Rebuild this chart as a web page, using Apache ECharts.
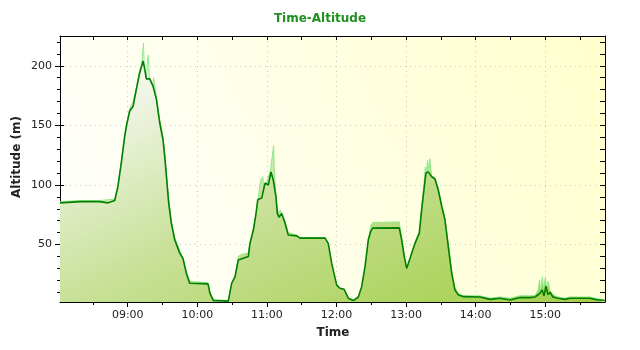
<!DOCTYPE html>
<html><head><meta charset="utf-8">
<script src="https://cdn.jsdelivr.net/npm/echarts@6/dist/echarts.min.js"></script>
<style>html,body{margin:0;padding:0;background:#fff}#c{width:640px;height:350px}</style>
</head><body><div id="c"></div>
<script>
// ---- data ----
const darkTimes = ["8:01:36","8:18:54","8:36:00","8:43:00","8:48:48","8:51:36","8:54:30","8:57:24","8:59:24","9:01:42","9:04:36","9:07:24","9:10:18","9:13:12","9:14:42","9:16:00","9:19:00","9:21:48","9:24:42","9:27:36","9:30:24","9:31:54","9:33:18","9:35:18","9:37:36","9:40:30","9:44:48","9:47:42","9:50:30","9:53:24","10:09:12","10:10:54","10:13:48","10:26:42","10:29:36","10:32:30","10:35:18","10:36:48","10:44:00","10:45:24","10:48:18","10:50:36","10:52:06","10:55:30","10:58:24","11:01:12","11:03:30","11:05:30","11:07:48","11:09:00","11:10:24","11:12:42","11:15:36","11:18:24","11:25:42","11:28:30","11:50:06","11:52:54","11:55:54","12:00:12","12:03:00","12:06:30","12:10:12","12:11:36","12:14:30","12:18:48","12:21:42","12:24:36","12:27:24","12:29:30","12:31:12","12:54:06","12:56:12","12:58:24","13:00:30","13:01:54","13:03:54","13:07:42","13:11:24","13:13:24","13:15:24","13:17:06","13:19:06","13:22:00","13:24:54","13:27:42","13:30:42","13:33:30","13:36:24","13:39:18","13:42:06","13:45:00","13:49:18","14:03:42","14:12:18","14:21:00","14:29:36","14:38:12","14:46:48","14:51:06","14:55:24","14:57:12","14:58:54","15:00:36","15:02:18","15:04:06","15:06:36","15:10:54","15:17:00","15:21:18","15:38:30","15:42:48","15:47:06","15:51:24"];
const darkAlt = [85,86,86,85,87,99,119,141,152,162,166,180,194,204,197,189,189,183,172,152,138,124,108,85,68,54,43,38,26,17.5,17,9,3,2.5,17.5,23,37,38.6,40,51,62,76,87.6,89,101.6,100,111,104,90,76,73,76,68,58,57.3,55.4,55.4,51,34,16,13.3,12.5,5,3.5,3,6,14.7,31.5,54,61,63.8,64,54,40,30,28.7,40,51,59.6,79,96,110,111,107,105,96,82,70.8,48.3,26,12,7.8,6.3,6,4,5,3.5,5.5,5.5,6,9,12,7,15,8,10,6,5,4,5,5,4,3.5,3];

const lightTimes = ["8:01:36","8:18:54","8:36:00","8:48:48","8:51:36","8:54:30","8:57:24","8:59:24","9:01:42","9:04:36","9:07:24","9:10:18","9:12:00","9:13:36","9:14:30","9:15:30","9:17:00","9:17:42","9:19:00","9:21:00","9:22:12","9:24:42","9:27:36","9:30:24","9:31:54","9:33:18","9:35:18","9:37:36","9:40:30","9:44:48","9:47:42","9:50:30","9:53:24","10:09:12","10:10:54","10:13:48","10:26:42","10:29:36","10:32:30","10:35:18","10:37:30","10:44:00","10:45:24","10:48:18","10:50:36","10:52:06","10:54:30","10:56:30","10:57:30","10:59:30","11:01:12","11:03:00","11:05:48","11:06:30","11:07:48","11:09:00","11:10:24","11:11:30","11:15:36","11:18:24","11:25:42","11:28:30","11:50:06","11:52:54","11:55:54","12:00:12","12:03:00","12:06:30","12:10:12","12:11:36","12:14:30","12:18:48","12:21:42","12:24:36","12:27:24","12:29:30","12:31:12","12:54:06","12:56:12","12:58:24","13:00:30","13:01:30","13:02:30","13:03:54","13:07:42","13:11:24","13:13:24","13:15:24","13:16:36","13:17:30","13:18:30","13:19:30","13:20:30","13:21:30","13:22:00","13:24:54","13:27:42","13:30:42","13:33:30","13:36:24","13:39:18","13:42:06","13:45:00","13:49:18","14:03:42","14:12:18","14:21:00","14:29:36","14:38:12","14:46:48","14:51:06","14:54:00","14:55:00","14:56:00","14:57:30","14:58:30","15:00:00","15:01:30","15:02:30","15:04:06","15:06:36","15:10:54","15:17:00","15:21:18","15:38:30","15:42:48","15:47:06","15:51:24"];
const lightAlt = [86,87,87,88,100,120,142,153,164,170,182,196,200,219,190,175,205,209,183,169,190,174,155,140,126,110,88,70,56,45,39,28,19,18,10,4,3,15,22,40,41.5,43,52,63,75,86,104,107,92,101,102,112,133,110,92,80,76,79,70,60,58,56,56,50,32,15,13,13,5,3,2.5,4,12,28,52,66,68.5,69,56,42,22,20,32,40,52,61,81,100,115,110,121,112,122,112,108,106,97,84,72,50,28,14,9,7,7,5,6,5,7,7,7,12,20,10,23,12,22,12,19,11,8,6,5,6,6,5,4,3];

const hourLabels = ["09:00","10:00","11:00","12:00","13:00","14:00","15:00"];
const halfHours = ["8:30","9:00","9:30","10:00","10:30","11:00","11:30","12:00","12:30","13:00","13:30","14:00","14:30","15:00","15:30"];
const yLabelValues = [50,100,150,200];
const yMinorValues = [10,20,30,40,60,70,80,90,110,120,130,140,160,170,180,190,210,220];
const yAllValues = [10,20,30,40,50,60,70,80,90,100,110,120,130,140,150,160,170,180,190,200,210,220];
const timeMin = "8:01:36", timeMax = "15:51:30";
const yMin = 1.8, yMax = 225;

function ts(s){const p=s.split(':').map(Number);return new Date(2020,0,1,p[0],p[1],p[2]||0).getTime();}
const darkData = darkTimes.map((t,i)=>[ts(t),darkAlt[i]]);
const lightData = lightTimes.map((t,i)=>[ts(t),lightAlt[i]]);
const hourTs = hourLabels.map(ts);
const halfTs = halfHours.map(ts);

const FONT = 'DejaVu Sans';
const G = echarts.graphic;
const areaGrad = () => new G.LinearGradient(60,36,267,464,[
  {offset:0,color:'#ffffff'},{offset:0.2,color:'#eef4e2'},{offset:0.5,color:'#c9e19a'},
  {offset:0.8,color:'#b0d564'},{offset:1,color:'#a4cf4c'}],true);
const bgGrad = new G.LinearGradient(60,302,605,36,[
  {offset:0,color:'#ffffff'},{offset:1,color:'#ffffcc'}],true);

const xBase = {type:'time',min:ts(timeMin),max:ts(timeMax),gridIndex:0};
const yBase = {type:'value',min:yMin,max:yMax,gridIndex:0};
const off = {show:false};

const chart = echarts.init(document.getElementById('c'),null,{renderer:'canvas'});
chart.setOption({
  animation:false,
  backgroundColor:'#ffffff',
  title:{text:'Time-Altitude',left:'center',top:8,
    textStyle:{fontFamily:FONT,fontWeight:'bold',fontSize:12,color:'#1f8f1f'}},
  grid:{left:60,right:35,top:36,bottom:48,show:true,backgroundColor:bgGrad,borderWidth:0},
  xAxis:[
    Object.assign({},xBase,{position:'bottom',
      axisLine:{show:true,lineStyle:{color:'#000',width:1}},
      axisTick:{show:true,inside:false,length:5,customValues:hourTs,lineStyle:{color:'#000'}},
      axisLabel:{show:true,customValues:hourTs,formatter:'{HH}:{mm}',margin:8,
        fontFamily:FONT,fontSize:11,color:'#222'},
      splitLine:{show:true,lineStyle:{color:'#c8c8c8',type:[1,4],width:1}}}),
    Object.assign({},xBase,{position:'bottom',axisLine:off,
      axisTick:{show:true,inside:false,length:3,customValues:halfTs,lineStyle:{color:'#000'}},
      axisLabel:off,splitLine:off}),
    Object.assign({},xBase,{position:'top',
      axisLine:{show:true,lineStyle:{color:'#000',width:1}},
      axisTick:{show:true,inside:true,length:4,customValues:halfTs,lineStyle:{color:'#000'}},
      axisLabel:off,splitLine:off})
  ],
  yAxis:[
    Object.assign({},yBase,{position:'left',
      axisLine:{show:true,lineStyle:{color:'#000',width:1}},
      axisTick:{show:true,inside:false,length:5,customValues:yLabelValues,lineStyle:{color:'#000'}},
      axisLabel:{show:true,customValues:yLabelValues,margin:8,fontFamily:FONT,fontSize:11,color:'#222'},
      splitLine:{show:true,lineStyle:{color:'#c8c8c8',type:[1,4],width:1}}}),
    Object.assign({},yBase,{position:'left',axisLine:off,
      axisTick:{show:true,inside:false,length:3,customValues:yMinorValues,lineStyle:{color:'#000'}},
      axisLabel:off,splitLine:off}),
    Object.assign({},yBase,{position:'left',axisLine:off,
      axisTick:{show:true,inside:true,length:4,customValues:yLabelValues,lineStyle:{color:'#000'}},
      axisLabel:off,splitLine:off}),
    Object.assign({},yBase,{position:'right',
      axisLine:{show:true,lineStyle:{color:'#000',width:1}},
      axisTick:{show:true,inside:true,length:5,customValues:yAllValues,lineStyle:{color:'#000'}},
      axisLabel:off,splitLine:off})
  ],
  graphic:[
    {type:'text',x:17,y:157,rotation:Math.PI/2,
      style:{text:'Altitude (m)',font:'bold 12px "DejaVu Sans"',fill:'#222',align:'center',verticalAlign:'middle'}},
    {type:'text',x:333,y:333,
      style:{text:'Time',font:'bold 12px "DejaVu Sans"',fill:'#222',align:'center',verticalAlign:'middle'}}
  ],
  series:[
    {type:'line',name:'raw',data:lightData,xAxisIndex:0,yAxisIndex:0,symbol:'none',z:2,
      lineStyle:{color:'#8ee88e',width:1},areaStyle:{color:areaGrad(),opacity:1}},
    {type:'line',name:'smoothed',data:darkData,xAxisIndex:0,yAxisIndex:0,symbol:'none',z:3,
      lineStyle:{color:'#007f00',width:1.6},areaStyle:{color:areaGrad(),opacity:1}}
  ]
});
</script></body></html>
